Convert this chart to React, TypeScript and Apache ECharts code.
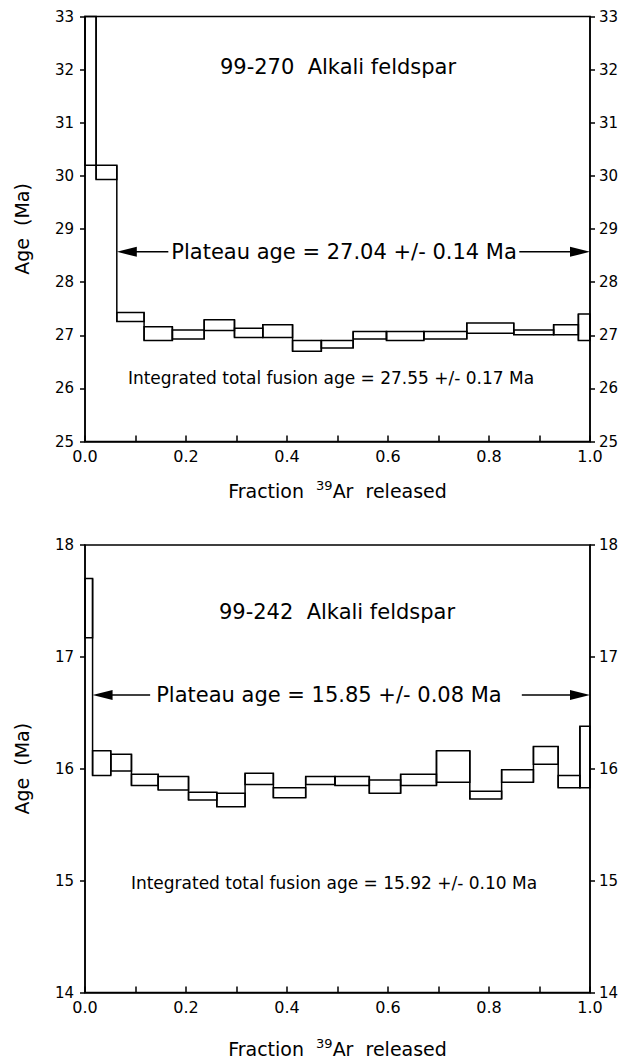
import React, { useEffect, useRef } from "react";
import * as echarts from "echarts";

// ---- Data: sample 99-270 (top) ----
const topBounds = [0, 0.022, 0.063, 0.117, 0.173, 0.236, 0.296, 0.352, 0.411, 0.468, 0.531, 0.597, 0.671, 0.756, 0.849, 0.928, 0.977, 1.0];
const topHigh = [34.5, 30.2, 27.43, 27.16, 27.1, 27.29, 27.13, 27.2, 26.9, 26.9, 27.07, 27.07, 27.07, 27.23, 27.1, 27.2, 27.4];
const topLow = [30.2, 29.93, 27.26, 26.9, 26.93, 27.09, 26.96, 26.96, 26.7, 26.76, 26.93, 26.9, 26.93, 27.04, 27.01, 27.01, 26.9];
const topYTicks = [25, 33];
const topTitle = "99-270  Alkali feldspar";
const topPlateauText = "Plateau age = 27.04 +/- 0.14 Ma";
const topIntegratedText = "Integrated total fusion age = 27.55 +/- 0.17 Ma";
// arrow: [leftTip, leftLineEnd, rightLineStart, rightTip, arrowAge, textX]
const topArrow = [0.063, 0.165, 0.86, 1.0, 28.57, 0.513];

// ---- Data: sample 99-242 (bottom) ----
const botBounds = [0, 0.015, 0.051, 0.092, 0.145, 0.205, 0.261, 0.317, 0.373, 0.437, 0.495, 0.563, 0.625, 0.696, 0.762, 0.825, 0.888, 0.937, 0.98, 1.0];
const botHigh = [17.7, 16.16, 16.13, 15.95, 15.93, 15.79, 15.78, 15.96, 15.83, 15.93, 15.93, 15.9, 15.95, 16.16, 15.8, 15.99, 16.2, 15.94, 16.38];
const botLow = [17.17, 15.94, 15.98, 15.85, 15.81, 15.72, 15.66, 15.86, 15.74, 15.86, 15.85, 15.78, 15.85, 15.88, 15.73, 15.88, 16.04, 15.83, 15.83];
const botYTicks = [14, 18];
const botTitle = "99-242  Alkali feldspar";
const botPlateauText = "Plateau age = 15.85 +/- 0.08 Ma";
const botIntegratedText = "Integrated total fusion age = 15.92 +/- 0.10 Ma";
const botArrow = [0.015, 0.129, 0.865, 1.0, 16.66, 0.483];

const FONT = "DejaVu Sans";
const LW = 1.5;

// each item: [x0, x1, high, low, nextHigh, nextLow]
function steps(bounds: number[], hi: number[], lo: number[]) {
  return hi.map((h, i) => [
    bounds[i],
    bounds[i + 1],
    h,
    lo[i],
    i + 1 < hi.length ? hi[i + 1] : h,
    i + 1 < lo.length ? lo[i + 1] : lo[i],
  ]);
}

function boxRender(params: any, api: any) {
  const p0 = api.coord([api.value(0), api.value(2)]);
  const p1 = api.coord([api.value(1), api.value(3)]);
  const cs = params.coordSys;
  const shape = echarts.graphic.clipRectByRect(
    { x: p0[0], y: p0[1], width: p1[0] - p0[0], height: p1[1] - p0[1] },
    { x: cs.x, y: cs.y, width: cs.width, height: cs.height }
  );
  const children: any[] = [];
  if (shape) children.push({ type: "rect", shape, style: { fill: "none", stroke: "#000", lineWidth: LW } });
  // connector at right edge spanning this step and the next
  const top = Math.max(api.value(2), api.value(4));
  const bot = Math.min(api.value(3), api.value(5));
  const c0 = api.coord([api.value(1), top]);
  const c1 = api.coord([api.value(1), bot]);
  const y1 = Math.max(c0[1], cs.y);
  const y2 = Math.min(c1[1], cs.y + cs.height);
  if (y2 > y1) children.push({ type: "line", shape: { x1: c0[0], y1, x2: c0[0], y2 }, style: { stroke: "#000", lineWidth: LW } });
  return { type: "group", children };
}

function makeArrowRender(text: string) {
  return (params: any, api: any) => {
    const y = api.value(4);
    const a = api.coord([api.value(0), y]);
    const b = api.coord([api.value(1), y]);
    const c = api.coord([api.value(2), y]);
    const d = api.coord([api.value(3), y]);
    const t = api.coord([api.value(5), y]);
    const hl = 20, hw = 5;
    return {
      type: "group",
      children: [
        { type: "line", shape: { x1: a[0] + hl - 1, y1: a[1], x2: b[0], y2: b[1] }, style: { stroke: "#000", lineWidth: LW } },
        { type: "polygon", shape: { points: [[a[0], a[1]], [a[0] + hl, a[1] - hw], [a[0] + hl, a[1] + hw]] }, style: { fill: "#000" } },
        { type: "line", shape: { x1: c[0], y1: c[1], x2: d[0] - hl + 1, y2: d[1] }, style: { stroke: "#000", lineWidth: LW } },
        { type: "polygon", shape: { points: [[d[0], d[1]], [d[0] - hl, d[1] - hw], [d[0] - hl, d[1] + hw]] }, style: { fill: "#000" } },
        {
          type: "text",
          x: t[0],
          y: t[1],
          style: { text, fill: "#000", font: `21px "${FONT}"`, align: "center", verticalAlign: "middle" },
        },
      ],
    };
  };
}

const xName = "{a|Fraction  }{s|39}{a|Ar  released}";
const xNameStyle = {
  color: "#000",
  rich: {
    a: { fontSize: 19, fontFamily: FONT, color: "#000", lineHeight: 24 },
    s: { fontSize: 13, fontFamily: FONT, color: "#000", verticalAlign: "top", lineHeight: 13 },
  },
};

function xAxisFor(gridIndex: number, nameGap: number) {
  return {
    gridIndex,
    type: "value",
    min: 0,
    max: 1,
    interval: 0.1,
    name: xName,
    nameLocation: "middle",
    nameGap,
    nameTextStyle: xNameStyle,
    axisLine: { lineStyle: { color: "#000", width: LW } },
    axisTick: { inside: true, length: 6, lineStyle: { color: "#000", width: LW } },
    axisLabel: {
      color: "#000",
      fontSize: 16,
      fontFamily: FONT,
      margin: 7,
      formatter: (v: number) => (Math.round(v * 10) % 2 === 0 ? v.toFixed(1) : ""),
    },
    splitLine: { show: false },
  };
}

function yAxisFor(gridIndex: number, ticks: number[], position: string, withName: boolean) {
  return {
    gridIndex,
    type: "value",
    position,
    min: ticks[0],
    max: ticks[1],
    interval: 1,
    name: withName ? "Age  (Ma)" : "",
    nameLocation: "middle",
    nameGap: 54,
    nameTextStyle: { color: "#000", fontSize: 19, fontFamily: FONT },
    axisLine: { show: true, onZero: false, lineStyle: { color: "#000", width: LW } },
    axisTick: { show: true, inside: false, length: 5, lineStyle: { color: "#000", width: LW } },
    axisLabel: { color: "#000", fontSize: 15, fontFamily: FONT, margin: position === "left" ? 11 : 9 },
    splitLine: { show: false },
  };
}

export default function App() {
  const ref = useRef<HTMLDivElement>(null);
  useEffect(() => {
    if (!ref.current) return;
    const chart = echarts.init(ref.current, null, { renderer: "svg" });
    const gridBase = { show: true, borderColor: "#000", borderWidth: LW, backgroundColor: "transparent", left: 85, right: 39 };
    chart.setOption({
      animation: false,
      backgroundColor: "#fff",
      grid: [
        { ...gridBase, top: 16.5, height: 425 },
        { ...gridBase, top: 545, height: 454 },
      ],
      xAxis: [xAxisFor(0, 37), xAxisFor(1, 44)],
      yAxis: [
        yAxisFor(0, topYTicks, "left", true),
        yAxisFor(0, topYTicks, "right", false),
        yAxisFor(1, botYTicks, "left", true),
        yAxisFor(1, botYTicks, "right", false),
      ],
      series: [
        { type: "custom", xAxisIndex: 0, yAxisIndex: 0, renderItem: boxRender, data: steps(topBounds, topHigh, topLow), encode: { x: [0, 1], y: [2, 3] } },
        { type: "custom", xAxisIndex: 1, yAxisIndex: 2, renderItem: boxRender, data: steps(botBounds, botHigh, botLow), encode: { x: [0, 1], y: [2, 3] } },
        { type: "custom", xAxisIndex: 0, yAxisIndex: 0, renderItem: makeArrowRender(topPlateauText), data: [topArrow], encode: { x: [0, 3], y: 4 } },
        { type: "custom", xAxisIndex: 1, yAxisIndex: 2, renderItem: makeArrowRender(botPlateauText), data: [botArrow], encode: { x: [0, 3], y: 4 } },
      ],
      graphic: [
        { type: "text", x: 338, y: 67, style: { text: topTitle, fill: "#000", font: `21px "${FONT}"`, align: "center", verticalAlign: "middle" } },
        { type: "text", x: 331, y: 378, style: { text: topIntegratedText, fill: "#000", font: `17px "${FONT}"`, align: "center", verticalAlign: "middle" } },
        { type: "text", x: 337, y: 612, style: { text: botTitle, fill: "#000", font: `21px "${FONT}"`, align: "center", verticalAlign: "middle" } },
        { type: "text", x: 334, y: 883, style: { text: botIntegratedText, fill: "#000", font: `17px "${FONT}"`, align: "center", verticalAlign: "middle" } },
      ],
    });
    return () => chart.dispose();
  }, []);
  return <div ref={ref} style={{ position: "absolute", left: 0, top: 0, width: 629, height: 1059 }} />;
}
